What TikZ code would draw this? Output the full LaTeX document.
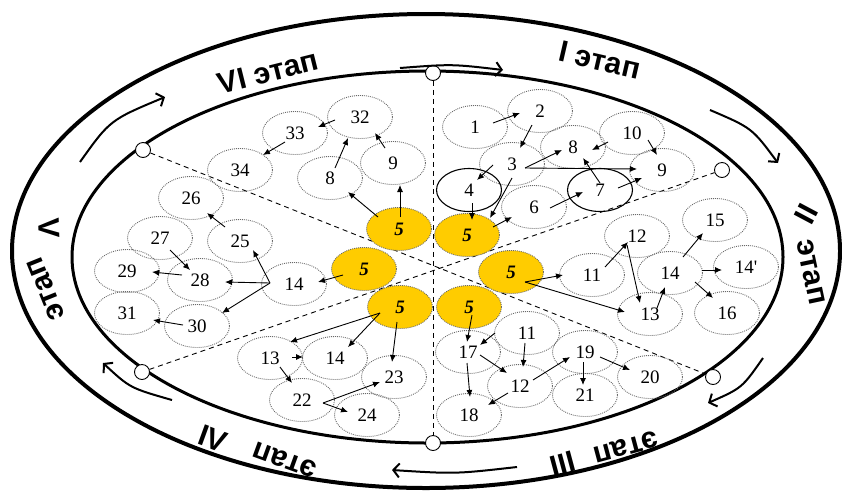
\documentclass[tikz,border=0pt]{standalone}
\usepackage{fontspec}
\setmainfont{Liberation Serif}
\newfontfamily\stagefont{Liberation Sans}
\usetikzlibrary{shapes.geometric,arrows.meta,calc}
\definecolor{goldfive}{RGB}{255,204,0}
\definecolor{dotgray}{RGB}{105,105,105}
\begin{document}
\begin{tikzpicture}[x=1pt,y=-1pt,
  cell/.style={ellipse, draw=dotgray, line width=0.9pt, dash pattern=on 0.9pt off 1.1pt,
    minimum width=65pt, minimum height=43pt, inner sep=0pt, font=\fontsize{19}{19}\selectfont},
  cellsolid/.style={cell, draw=black, solid, line width=1.1pt},
  five/.style={cell, fill=goldfive, font=\fontsize{19}{19}\selectfont\bfseries\itshape},
  arr/.style={-{Latex[length=7pt,width=6pt]}, line width=0.9pt},
  ringarr/.style={-{Straight Barb[length=6pt,width=14pt]}, line width=2pt},
  stage/.style={font=\stagefont\bfseries\fontsize{30}{30}\selectfont, inner sep=0pt},
  sepline/.style={line width=0.9pt, dash pattern=on 5pt off 4pt},
  knot/.style={circle, draw=black, fill=white, line width=0.9pt, minimum size=15pt, inner sep=0pt}]
\useasboundingbox (0,0) rectangle (842,491);
% ring ellipses
\draw[line width=4pt] (426,251) ellipse [x radius=414, y radius=237];
\draw[line width=3pt] (427.5,257) ellipse [x radius=355.5, y radius=186];
% knots and separators
\node[knot] (kT) at (433,73) {};
\node[knot] (kB) at (433,443) {};
\node[knot] (kUL) at (143,150) {};
\node[knot] (kLR) at (713,377) {};
\node[knot] (kLL) at (142,372) {};
\node[knot] (kUR) at (722,170) {};
\draw[sepline] (kT) -- (kB);
\draw[sepline] (kUL) -- (kLR);
\draw[sepline] (kLL) -- (kUR);
% yellow centres
\node[five] (n5a) at (399,229) {5};
\node[five] (n5b) at (467,235) {5};
\node[five] (n5c) at (364,269) {5};
\node[five] (n5d) at (511,272) {5};
\node[five] (n5e) at (400,307) {5};
\node[five] (n5f) at (469,307) {5};
% stage I
\node[cell] (n1) at (475,127) {1};
\node[cell] (n2) at (540,111) {2};
\node[cell] (n3) at (512,164) {3};
\node[cellsolid] (n4) at (469,190) {4};
\node[cell] (n8) at (573,147) {8};
\node[cell] (n10) at (632,133) {10};
\node[cell] (n9) at (662,170) {9};
\node[cellsolid] (n7) at (600,190) {7};
\node[cell] (n6) at (534,207) {6};
% stage II
\node[cell] (n15) at (715,220) {15};
\node[cell] (n12a) at (637,236) {12};
\node[cell] (n11a) at (592,275) {11};
\node[cell] (n14a) at (670,273) {14};
\node[cell] (n14p) at (746,267) {14\textquotesingle};
\node[cell] (n13a) at (650,314) {13};
\node[cell] (n16) at (727,313) {16};
% stage III
\node[cell] (n17) at (468,352) {17};
\node[cell] (n11b) at (527,333) {11};
\node[cell] (n19) at (585,352) {19};
\node[cell] (n20) at (650,377) {20};
\node[cell] (n12b) at (520,386) {12};
\node[cell] (n21) at (585,395) {21};
\node[cell] (n18) at (469,415) {18};
% stage VI
\node[cell] (n32) at (360,117) {32};
\node[cell] (n33) at (295,133) {33};
\node[cell] (n34) at (240,170) {34};
\node[cell] (n8e) at (330,178) {8};
\node[cell] (n9e) at (393,163) {9};
% stage V
\node[cell] (n26) at (191,198) {26};
\node[cell] (n27) at (160,238) {27};
\node[cell] (n25) at (240,241) {25};
\node[cell] (n29) at (127,271) {29};
\node[cell] (n28) at (200,280) {28};
\node[cell] (n14d) at (294,284) {14};
\node[cell] (n31) at (127,313) {31};
\node[cell] (n30) at (197,326) {30};
% stage IV
\node[cell] (n13c) at (270,358) {13};
\node[cell] (n14c) at (335,358) {14};
\node[cell] (n23) at (394,377) {23};
\node[cell] (n22) at (302,400) {22};
\node[cell] (n24) at (367,415) {24};
% arrows stage I
\draw[arr] ($(n1)+(18,-4)$) -- ($(n2)+(-20,2)$);
\draw[arr] ($(n2)+(-8,14)$) -- ($(n3)+(8,-16)$);
\draw[arr] ($(n3)+(-19,1)$) -- ($(n4)+(8,-10)$);
\draw[arr] ($(n3)+(13,4)$) -- ($(n8)+(-11,3)$);
\draw[arr] ($(n3)+(13,4)$) -- ($(n9)+(-25,-1)$);
\draw[arr] ($(n3)+(0,14)$) -- ($(n5b)+(23,-17)$);
\draw[arr] ($(n4)+(3,13)$) -- ($(n5b)+(5,-15)$);
\draw[arr] ($(n5b)+(26,-8)$) -- ($(n6)+(-22,10)$);
\draw[arr] ($(n6)+(16,1)$) -- ($(n7)+(-17,2)$);
\draw[arr] ($(n7)+(0,-7)$) -- ($(n8)+(10,11)$);
\draw[arr] ($(n7)+(18,-2)$) -- ($(n9)+(-20,8)$);
\draw[arr] ($(n10)+(-24,9)$) -- ($(n8)+(19,3)$);
\draw[arr] ($(n10)+(16,7)$) -- ($(n9)+(-5,-15)$);
% arrows stage II
\draw[arr] ($(n5d)+(14,10)$) -- ($(n11a)+(-29,0)$);
\draw[arr] ($(n5d)+(14,10)$) -- ($(n13a)+(-25,-2)$);
\draw[arr] ($(n11a)+(13,-8)$) -- ($(n12a)+(-9,6)$);
\draw[arr] ($(n12a)+(-10,9)$) -- ($(n13a)+(-10,-11)$);
\draw[arr] ($(n13a)+(7,-6)$) -- ($(n14a)+(-5,14)$);
\draw[arr] ($(n14a)+(13,-16)$) -- ($(n15)+(-12,13)$);
\draw[arr] ($(n14a)+(32,-3)$) -- ($(n14p)+(-24,3)$);
\draw[arr] ($(n14a)+(25,9)$) -- ($(n16)+(-14,-15)$);
% arrows stage III
\draw[arr] ($(n5f)+(3,8)$) -- ($(n17)+(-1,-10)$);
\draw[arr] ($(n11b)+(-32,0)$) -- ($(n17)+(12,-7)$);
\draw[arr] ($(n11b)+(-2,10)$) -- ($(n12b)+(3,-19)$);
\draw[arr] ($(n17)+(12,3)$) -- ($(n12b)+(-13,-13)$);
\draw[arr] ($(n17)+(-1,11)$) -- ($(n18)+(1,-18)$);
\draw[arr] ($(n12b)+(13,-6)$) -- ($(n19)+(-15,5)$);
\draw[arr] ($(n19)+(-2,10)$) -- ($(n21)+(-2,-10)$);
\draw[arr] ($(n19)+(15,5)$) -- ($(n20)+(-20,-7)$);
\draw[arr] ($(n12b)+(-12,7)$) -- ($(n18)+(19,-10)$);
% arrows stage VI
\draw[arr] ($(n33)+(-10,9)$) -- ($(n34)+(23,-15)$);
\draw[arr] ($(n32)+(-25,3)$) -- ($(n33)+(23,-6)$);
\draw[arr] ($(n8e)+(5,-10)$) -- ($(n32)+(-12,21)$);
\draw[arr] ($(n9e)+(-8,-15)$) -- ($(n32)+(15,16)$);
\draw[arr] ($(n5a)+(-21,-12)$) -- ($(n8e)+(18,14)$);
\draw[arr] ($(n5a)+(1,-12)$) -- ($(n9e)+(7,22)$);
% arrows stage V
\draw[arr] ($(n25)+(-15,-14)$) -- ($(n26)+(16,15)$);
\draw[arr] ($(n27)+(10,12)$) -- ($(n28)+(-10,-10)$);
\draw[arr] ($(n28)+(-18,-5)$) -- ($(n29)+(25,1)$);
\draw[arr] ($(n14d)+(-24,-1)$) -- ($(n28)+(25,2)$);
\draw[arr] ($(n14d)+(-24,-1)$) -- ($(n25)+(13,9)$);
\draw[arr] ($(n14d)+(-24,-1)$) -- ($(n30)+(25,-13)$);
\draw[arr] ($(n30)+(-14,-1)$) -- ($(n31)+(26,7)$);
\draw[arr] ($(n5c)+(-21,6)$) -- ($(n14d)+(24,-2)$);
% arrows stage IV
\draw[arr] ($(n5e)+(-20,6)$) -- ($(n13c)+(20,-16)$);
\draw[arr] ($(n5e)+(-20,6)$) -- ($(n14c)+(13,-11)$);
\draw[arr] ($(n5e)+(-3,15)$) -- ($(n23)+(-2,-15)$);
\draw[arr] ($(n13c)+(22,-1)$) -- ($(n14c)+(-32,-1)$);
\draw[arr] ($(n13c)+(10,9)$) -- ($(n22)+(-10,-17)$);
\draw[arr] ($(n22)+(21,3)$) -- ($(n23)+(-14,5)$);
\draw[arr] ($(n22)+(21,3)$) -- ($(n24)+(-19,-3)$);
% ring arrows
\coordinate (rTa) at (400,68);   \coordinate (rTb) at (503,70);
\coordinate (rRa) at (710,110);  \coordinate (rRb) at (778,163);
\coordinate (rLRa) at (763,358); \coordinate (rLRb) at (708,403);
\coordinate (rBa) at (517,467);  \coordinate (rBb) at (392,470);
\coordinate (rLLa) at (172,400); \coordinate (rLLb) at (103,363);
\coordinate (rULa) at (80,162);  \coordinate (rULb) at (165,97);
\draw[ringarr] (rTa) .. controls (452,64) .. (rTb);
\draw[ringarr] (rRa) .. controls (752,128) .. (rRb);
\draw[ringarr] (rLRa) .. controls (742,388) .. (rLRb);
\draw[ringarr] (rBa) .. controls (455,474) .. (rBb);
\draw[ringarr] (rLLa) .. controls (130,388) .. (rLLb);
\draw[ringarr] (rULa) .. controls (110,120) .. (rULb);
% stage labels
\node[stage, rotate=-13] (stI) at (600,60) {I этап};
\node[stage, rotate=14] (stVI) at (268,72) {VI этап};
\node[stage, rotate=62] (stIIn) at (806,214) {II};
\node[stage, rotate=-78] (stIIw) at (811,272) {этап};
\node[stage, rotate=15] (stIIIn) at (563,464) {III};
\node[stage, rotate=195] (stIIIw) at (626,447) {этап};
\node[stage, rotate=-20] (stIVn) at (213,439) {IV};
\node[stage, rotate=160] (stIVw) at (285,460) {этап};
\node[stage, rotate=-88] (stVn) at (49,228) {V};
\node[stage, rotate=112] (stVw) at (46,289) {этап};
\end{tikzpicture}
\end{document}
